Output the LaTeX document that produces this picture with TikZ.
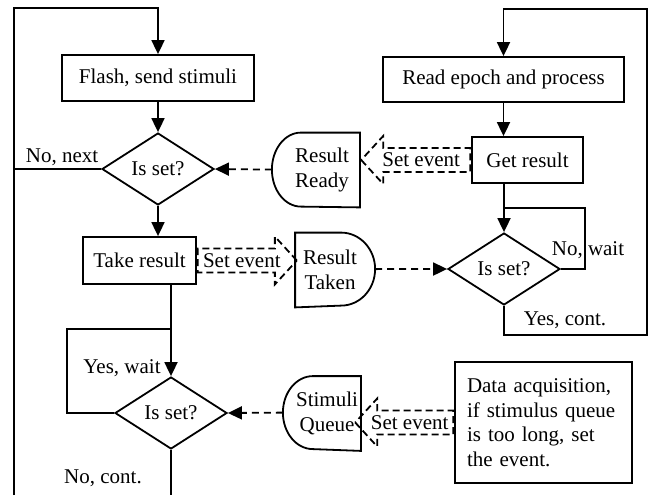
\documentclass[tikz,border=0pt]{standalone}
\usepackage{fontspec}
\setmainfont{Liberation Serif}
\usetikzlibrary{shapes.geometric,shapes.arrows,arrows.meta}
\begin{document}
\begin{tikzpicture}[x=1pt, y=1pt, line width=1.8pt, font=\fontsize{21}{24.5}\selectfont]
\tikzstyle{box} = [draw, rectangle, inner sep=0pt]
\tikzstyle{test} = [draw, diamond, aspect=1.556, minimum width=112pt, minimum height=72pt, inner sep=0pt]
\tikzstyle{flag} = [inner sep=0pt, minimum height=73pt, align=center]
\tikzstyle{event} = [single arrow, draw, dash pattern=on 7pt off 4pt, inner xsep=-2pt, inner ysep=4pt, single arrow head extend=12pt, single arrow tip angle=95]
\tikzstyle{go} = [-{Triangle[length=14pt, width=13pt]}]
\tikzstyle{signal} = [go, dash pattern=on 7pt off 5pt]

\useasboundingbox (0,0) rectangle (650,-495);

\node[box, minimum width=192pt, minimum height=46pt] (flash) at (158,-78) {Flash, send stimuli};
\node[test] (d1) at (158,-169) {Is set?};
\node[box, minimum width=113pt, minimum height=47pt] (take) at (139.5,-260.5) {Take result};
\node[test] (d3) at (171,-413) {Is set?};

\node[box, minimum width=241pt, minimum height=45pt] (read) at (503.5,-79.5) {Read epoch and process};
\node[box, minimum width=111pt, minimum height=46pt] (get) at (527.5,-160) {Get result};
\node[test] (d2) at (504,-269) {Is set?};
\node[box, minimum width=177pt, minimum height=121pt, text width=153pt, inner xsep=12pt, align=left] (daq) at (543.5,-422.5)
    {Data acquisition,\\if stimulus queue\\is too long, set\\the event.};

\node[flag, minimum width=74pt] (ready) at (322,-170) {Result\\Ready};
\node[flag, minimum width=68pt] (taken) at (330,-270) {Result\\Taken};
\node[flag, minimum width=66pt] (queue) at (327,-413.5) {Stimuli\\Queue};

\draw (ready.north east) -- ++(-59,0)
    arc[start angle=90, end angle=180, x radius=29, y radius=37] coordinate (ready-in)
    arc[start angle=180, end angle=270, x radius=29, y radius=37] -- (ready.south east) -- cycle;
\draw (taken.north west) -- ++(46,0)
    arc[start angle=90, end angle=0, x radius=34, y radius=36.5] coordinate (taken-out)
    arc[start angle=0, end angle=-90, x radius=34, y radius=36.5] -- (taken.south west) -- cycle;
\draw (queue.north east) -- ++(-48,0)
    arc[start angle=90, end angle=180, x radius=30, y radius=36.5] coordinate (queue-in)
    arc[start angle=180, end angle=270, x radius=30, y radius=36.5] -- (queue.south east) -- cycle;

\node[event, anchor=tail, minimum height=99pt] (ev1) at (take.east) {Set event};
\node[event, shape border rotate=180, anchor=tail, minimum height=109pt] (ev2) at (get.west) {Set event};
\node[event, shape border rotate=180, anchor=tail, minimum height=98pt] (ev3) at (daq.west) {Set event};

\node (next) at (62,-157) {No, next};
\node (wait) at (588,-250) {No, wait};
\node (cont) at (565,-320) {Yes, cont.};
\node (ywait) at (122,-368) {Yes, wait};
\node (ncont) at (103,-478) {No, cont.};

\coordinate (ltop) at (14,-8);
\coordinate (lbot) at (14,-495);
\coordinate (rtop) at (647,-9);
\coordinate (rbot) at (647,-335);
\coordinate (nwait) at (585,-208);
\coordinate (yloop) at (67,-329);
\coordinate (bend) at (171,-495);

\draw (d1.west) -- (d1.west -| ltop);
\draw[go] (lbot) -- (ltop) -| (flash.north);
\draw[go] (flash.south) -- (d1.north);
\draw[go] (d1.south) -- (d1.south |- take.north);
\draw[go] (take.south -| d3.north) -- (d3.north);
\draw (d3.west) -| (yloop) -- (yloop -| d3.north);
\draw (d3.south) -- (bend);

\draw[go] (d2.south) |- (rbot) -- (rtop) -| (read.north);
\draw[go] (read.south) -- (read.south |- get.north);
\draw[go] (get.south -| d2.north) -- (d2.north);
\draw (d2.east) -| (nwait) -- (nwait -| d2.north);

\draw[signal] (ready-in) -- (d1.east);
\draw[signal] (taken-out) -- (d2.west);
\draw[signal] (queue-in) -- (d3.east);
\end{tikzpicture}
\end{document}
